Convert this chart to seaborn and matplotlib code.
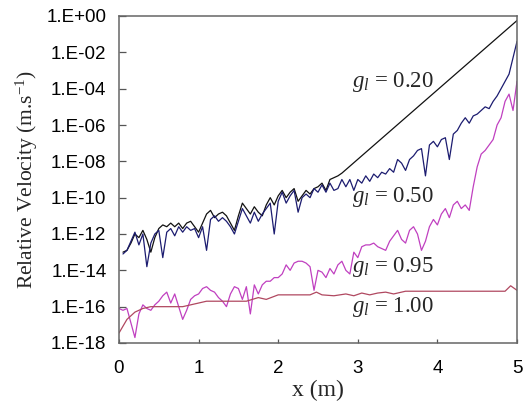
import numpy as np
import pandas as pd
import matplotlib
matplotlib.use("Agg")
import matplotlib.pyplot as plt
from matplotlib.ticker import FixedLocator, FuncFormatter, NullLocator
import seaborn as sns

# ---------------- data (log10 of relative velocity) ----------------
x_020 = [0.05, 0.10, 0.15, 0.20, 0.25, 0.30, 0.35, 0.40, 0.45, 0.50,
         0.55, 0.60, 0.65, 0.70, 0.75, 0.80, 0.85, 0.90, 0.95, 1.00,
         1.05, 1.10, 1.15, 1.20, 1.25, 1.30, 1.35, 1.40, 1.45, 1.50,
         1.55, 1.60, 1.65, 1.70, 1.75, 1.80, 1.85, 1.90, 1.95, 2.00,
         2.05, 2.10, 2.15, 2.20, 2.25, 2.30, 2.35, 2.40, 2.45, 2.50,
         2.55, 2.60, 2.65, 2.70, 2.75, 2.80, 5.00]
e_020 = [-13.0, -12.9, -12.5, -12.0, -12.2, -11.8, -12.3, -13.0, -12.2, -11.7,
         -11.5, -11.6, -11.4, -11.6, -11.4, -11.7, -11.4, -11.3, -11.6, -11.9,
         -11.4, -10.9, -10.7, -11.1, -10.9, -10.8, -11.0, -11.4, -11.8, -11.0,
         -10.3, -10.6, -10.9, -10.5, -10.8, -11.0, -10.4, -10.0, -10.4, -9.9,
         -9.6, -10.0, -9.7, -9.5, -10.2, -9.9, -9.6, -9.8, -9.5, -9.4,
         -9.2, -9.6, -9.0, -8.9, -8.8, -8.65, -0.25]

x_050 = [round(0.05 * i, 2) for i in range(1, 101)]
e_050 = [-13.1, -12.9, -12.4, -11.9, -12.6, -12.0, -13.8, -12.5, -12.0, -11.8,
         -13.3, -11.9, -11.7, -12.1, -11.6, -11.9, -11.6, -11.8, -11.7, -12.2,
         -11.6, -12.9, -11.2, -11.0, -11.3, -11.1, -11.3, -11.6, -12.0, -11.3,
         -10.6, -11.0, -11.4, -10.8, -11.3, -10.9, -10.6, -10.3, -12.0, -10.2,
         -9.7, -10.3, -9.9, -9.6, -10.8, -10.0, -9.8, -10.0, -9.5, -9.7,
         -9.3, -9.7, -9.2, -9.6, -9.5, -9.0, -9.4, -9.0, -9.6, -9.0,
         -9.2, -8.8, -9.1, -8.7, -8.9, -8.6, -8.7, -8.4, -8.6, -7.9,
         -8.1, -8.5, -7.9, -7.7, -7.4, -7.3, -8.8, -7.1, -6.9, -7.2,
         -6.8, -6.7, -7.9, -6.5, -6.3, -5.9, -5.6, -5.9, -5.5, -5.4,
         -5.2, -5.0, -5.1, -4.7, -4.4, -4.0, -3.6, -3.2, -2.3, -1.4]

x_095 = [round(0.05 * i, 2) for i in range(0, 101)]
e_095 = [-16.1, -16.2, -16.1, -16.9, -17.7, -16.4, -15.9, -16.1, -16.2, -15.9,
         -15.7, -15.4, -15.2, -15.8, -15.3, -16.0, -16.7, -16.2, -15.6, -15.4,
         -15.3, -15.0, -14.9, -15.1, -15.2, -15.5, -15.7, -16.0, -15.3, -14.9,
         -15.0, -15.6, -14.9, -16.4, -14.8, -15.3, -14.8, -14.6, -14.6, -14.4,
         -14.4, -14.2, -13.7, -14.0, -13.6, -13.5, -13.5, -13.6, -13.8, -15.1,
         -14.0, -14.1, -14.4, -13.9, -14.2, -13.7, -13.5, -14.0, -14.2, -13.0,
         -13.3, -12.7, -12.6, -12.6, -12.5, -12.7, -12.8, -12.9, -12.4, -12.1,
         -11.8, -12.3, -12.5, -11.8, -11.6, -12.0, -12.9, -12.4, -11.6, -11.2,
         -11.5, -10.9, -10.6, -11.1, -10.4, -10.2, -10.6, -10.4, -10.7, -9.4,
         -8.3, -7.6, -7.4, -7.1, -6.8, -6.0, -5.6, -4.7, -4.3, -5.2,
         -3.6]

x_100 = [0.00, 0.10, 0.20, 0.30, 0.40, 0.60, 0.80, 1.00, 1.10, 1.60,
         1.75, 1.85, 2.00, 2.40, 2.48, 2.55, 2.70, 2.85, 2.95, 3.05,
         3.15, 3.25, 3.35, 3.45, 3.55, 3.60, 4.85, 4.92, 5.00]
e_100 = [-17.45, -16.7, -16.3, -16.1, -16.0, -16.0, -16.0, -15.8, -15.7, -15.7,
         -15.5, -15.6, -15.35, -15.35, -15.2, -15.35, -15.4, -15.3, -15.4, -15.25,
         -15.35, -15.25, -15.2, -15.3, -15.2, -15.15, -15.15, -14.85, -15.1]

series_labels = ["0.20", "0.50", "0.95", "1.00"]
series_colors = ["#111111", "#1c1c70", "#c040c0", "#b04860"]
y_tick_exps = [0, -2, -4, -6, -8, -10, -12, -14, -16, -18]
x_ticks = [0, 1, 2, 3, 4, 5]

# ---------------- figure ----------------
sns.set_theme(style="white")
plt.rcParams["font.family"] = ["Liberation Sans", "DejaVu Sans"]
plt.rcParams["mathtext.fontset"] = "custom"
plt.rcParams["mathtext.rm"] = "Liberation Serif"
plt.rcParams["mathtext.it"] = "Liberation Serif:italic"

fig = plt.figure(figsize=(5.27, 4.12), dpi=100)
ax = fig.add_axes([119 / 527, 1 - 343 / 412, (517 - 119) / 527, (343 - 16) / 412])

all_x = [x_020, x_050, x_095, x_100]
all_e = [e_020, e_050, e_095, e_100]
for lab, xs, es, col in zip(series_labels, all_x, all_e, series_colors):
    df = pd.DataFrame({"x": xs, "v": 10.0 ** np.array(es)})
    sns.lineplot(data=df, x="x", y="v", ax=ax, color=col, lw=0.9,
                 estimator=None, sort=False, legend=False)

ax.set_yscale("log")
ax.set_ylim(1e-18, 1e0)
ax.set_xlim(0, 5)
ax.yaxis.set_major_locator(FixedLocator([10.0 ** e for e in y_tick_exps]))
ax.yaxis.set_minor_locator(NullLocator())
ax.yaxis.set_major_formatter(FuncFormatter(lambda v, p: "1.E%+03d" % int(round(np.log10(v)))))
ax.set_xticks(x_ticks)
ax.set_xticklabels([str(t) for t in x_ticks])

ax.tick_params(axis="y", direction="in", length=5, width=0.9, color="#555555",
               labelsize=13.5, pad=9, labelcolor="black", left=True)
ax.tick_params(axis="x", direction="in", length=3, width=0.9, color="#555555",
               labelsize=13.5, pad=12, labelcolor="black", bottom=True)
for lbl in ax.get_yticklabels() + ax.get_xticklabels():
    lbl.set_fontfamily("Liberation Sans")
for s in ax.spines.values():
    s.set_color("#666666")
    s.set_linewidth(1.1)

ax.set_xlabel("x (m)", family="Liberation Serif", fontsize=17, labelpad=2)
ax.set_ylabel(r"Relative Velocity (m.s$^{\mathregular{-1}}$)",
              family="Liberation Serif", fontsize=15.5, labelpad=5)

label_pos = [(2.93, -3.64), (2.93, -9.96), (2.93, -13.82), (2.93, -16.0)]
for lab, (tx, te) in zip(series_labels, label_pos):
    ax.text(tx, 10.0 ** te, r"$g_l$ = " + lab, family="Liberation Serif",
            fontsize=16.5, va="center", ha="left")

ax.grid(False)
fig.savefig("out.png", dpi=100, facecolor="white")
